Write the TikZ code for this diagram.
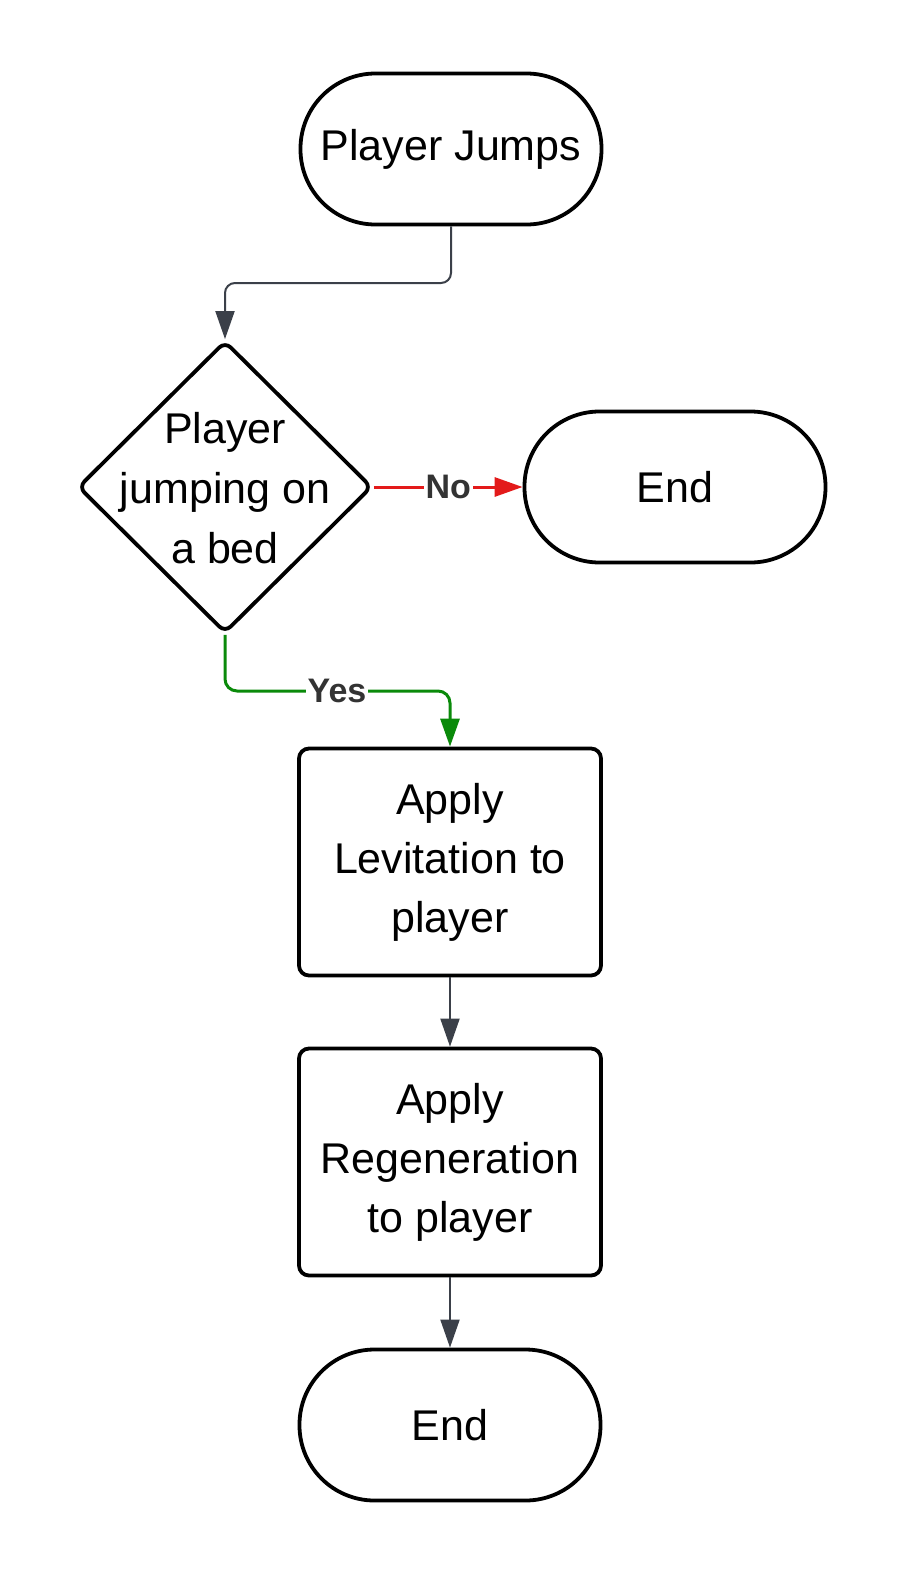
\documentclass[tikz,border=0pt]{standalone}
\usepackage{fontspec}
\setmainfont{Liberation Sans}
\usetikzlibrary{arrows.meta,shapes.geometric}
\definecolor{conngray}{HTML}{3B4049}
\definecolor{noRed}{HTML}{E31A1A}
\definecolor{yesGreen}{HTML}{0A8A0A}
\definecolor{lblgray}{HTML}{333333}
\tikzset{
  term/.style={draw=black, line width=1.9pt, fill=white, rectangle, rounded corners=37.5pt,
    minimum width=150.5pt, minimum height=75.5pt, inner sep=0pt,
    font=\fontsize{21.5pt}{29.5pt}\selectfont},
  procbox/.style={draw=black, line width=1.9pt, fill=white, rectangle, rounded corners=5pt,
    minimum width=151pt, minimum height=113.5pt, inner sep=0pt, align=center,
    font=\fontsize{21.5pt}{29.5pt}\selectfont},
  decis/.style={draw=black, line width=1.9pt, fill=white, diamond, rounded corners=4pt,
    minimum width=147pt, minimum height=146pt, inner sep=0pt},
  dtext/.style={align=center, inner sep=0pt, font=\fontsize{21.5pt}{30pt}\selectfont},
  conn/.style={draw=conngray, line width=1pt, rounded corners=5pt,
    -{Triangle[length=14pt,width=9.5pt]}},
  noconn/.style={draw=noRed, line width=1.5pt, -{Triangle[length=14pt,width=9.5pt]}, color=noRed},
  yesconn/.style={draw=yesGreen, line width=1.5pt, rounded corners=6pt,
    -{Triangle[length=14pt,width=9.5pt]}, color=yesGreen},
  lbl/.style={fill=white, text=lblgray, inner sep=1pt, font=\fontsize{17pt}{19pt}\selectfont\bfseries}
}
\begin{document}
\begin{tikzpicture}[x=0.5pt,y=-0.5pt]
\useasboundingbox (0,0) rectangle (900,1575);
\node[term] (start) at (451,149) {Player Jumps};
\node[decis] (dec) at (225,487) {};
\node[dtext] (dect) at (225,488) {Player\\jumping on\\a bed};
\node[term] (end1) at (675,487) {End};
\node[procbox] (lev) at (450,862) {Apply\\Levitation to\\player};
\node[procbox] (reg) at (450,1162) {Apply\\Regeneration\\to player};
\node[term] (end2) at (450,1425) {End};
\coordinate (m1) at (338,283);
\coordinate (ym) at (337,691);
\draw[conn] (start.south) |- (m1) -| (dec.north);
\draw[noconn] (dec.east) -- node[lbl] (nolbl) {No} (end1.west);
\draw[yesconn] (dec.south) |- (ym) -| (lev.north);
\node[lbl] (yeslbl) at (ym) {Yes};
\draw[conn] (lev.south) -- (reg.north);
\draw[conn] (reg.south) -- (end2.north);
\end{tikzpicture}
\end{document}
